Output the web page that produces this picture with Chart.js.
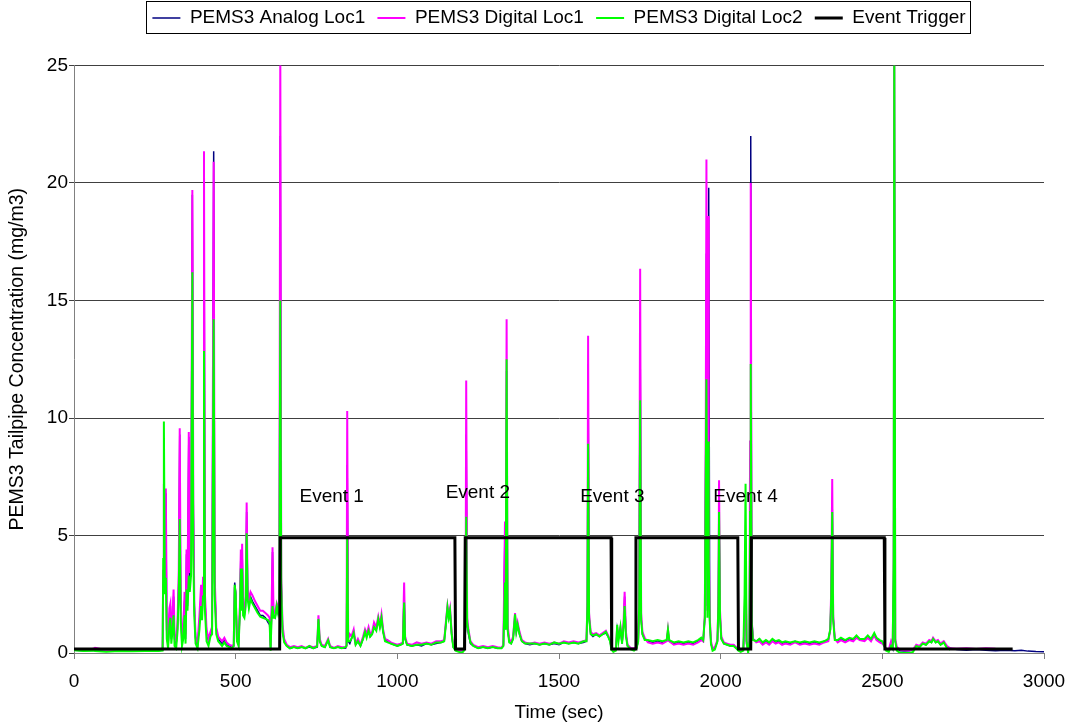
<!DOCTYPE html>
<html>
<head>
<meta charset="utf-8">
<script src="https://cdn.jsdelivr.net/npm/chart.js@4.4.0/dist/chart.umd.min.js"></script>
<style>
  html, body { margin: 0; padding: 0; background: #fff; }
  #wrap { width: 1067px; height: 727px; }
</style>
</head>
<body>
<div id="wrap"><canvas id="pemsChart"></canvas></div>
<script>
// sample times (sec) shared by the three PEMS3 traces
const time = [
  0, 30, 60, 65, 100, 140, 180, 220, 260, 274,
  276, 278, 281, 284, 287, 291, 295, 298, 301, 305, 308, 311, 316, 320, 324, 327, 330, 334, 338, 342, 345, 348, 351, 355, 358, 362, 366, 369, 372, 376,
  382, 388, 393, 396, 399, 402, 405, 410, 416, 422, 427, 432, 435, 440, 446, 452, 458, 465, 472, 480, 488, 494, 497, 500, 504, 509, 513, 516, 518, 520,
  523, 527, 531, 534, 537, 541, 546, 552, 560, 568, 576, 584, 592, 600, 605, 608, 611, 614, 617, 622, 627, 631, 635, 638, 641, 645, 650, 658, 668, 680,
  692, 704, 716, 728, 740, 752, 756, 760, 766, 776, 786, 792, 804, 816, 828, 840, 843, 845, 848, 853, 858, 865, 871, 878, 886, 894, 900, 905, 911, 916,
  922, 928, 935, 941, 946, 951, 956, 962, 970, 980, 990, 1000, 1010, 1017, 1021, 1024, 1030, 1045, 1060, 1075, 1090, 1105, 1120, 1135, 1145, 1150, 1155, 1159, 1163, 1168,
  1173, 1180, 1190, 1200, 1206, 1211, 1213, 1216, 1220, 1226, 1235, 1250, 1265, 1280, 1295, 1310, 1322, 1328, 1333, 1335, 1338, 1341, 1346, 1352, 1358, 1364, 1368, 1372, 1378, 1385,
  1395, 1410, 1425, 1440, 1455, 1470, 1485, 1500, 1515, 1530, 1545, 1560, 1575, 1585, 1588, 1590, 1593, 1598, 1605, 1615, 1625, 1635, 1645, 1652, 1658, 1662, 1668, 1676, 1680, 1684,
  1690, 1695, 1700, 1703, 1707, 1712, 1722, 1732, 1740, 1745, 1748, 1751, 1754, 1758, 1765, 1775, 1790, 1805, 1820, 1833, 1837, 1841, 1855, 1870, 1885, 1900, 1915, 1930, 1940, 1946,
  1951, 1954, 1956, 1959, 1961, 1963, 1966, 1970, 1975, 1982, 1990, 1993, 1995, 1998, 2002, 2010, 2020, 2030, 2040, 2048, 2055, 2062, 2070, 2074, 2077, 2080, 2085, 2089, 2091, 2093,
  2096, 2100, 2110, 2120, 2130, 2140, 2150, 2160, 2170, 2180, 2190, 2200, 2215, 2230, 2245, 2260, 2275, 2290, 2305, 2320, 2333, 2339, 2342, 2345, 2348, 2353, 2362, 2372, 2385, 2398,
  2410, 2420, 2430, 2445, 2455, 2465, 2475, 2482, 2492, 2500, 2506, 2512, 2520, 2527, 2532, 2535, 2537, 2540, 2545, 2555, 2570, 2585, 2595, 2605, 2615, 2625, 2635, 2645, 2652, 2657,
  2665, 2672, 2680, 2690, 2700, 2710, 2730, 2760, 2790, 2820, 2850, 2880, 2910, 2930, 2950, 2975, 3000
];

// PEMS3 Analog Loc1 (mg/m3)
const analogLoc1 = [
  0.12, 0.1, 0.12, 0.1, 0.08, 0.1, 0.09, 0.1, 0.1, 0.12,
  3.0, 7.0, 3.0, 6.8, 0.8, 0.3, 1.6, 2.0, 0.6, 1.4, 2.4, 0.6, 0.4, 1.0, 3.0, 9.3, 2.0, 0.5, 0.8, 2.2, 0.6, 4.2, 2.0, 9.2, 3.0, 4.0, 19.5, 6.0, 2.0, 0.6,
  0.3, 1.3, 2.5, 1.5, 3.0, 21.0, 2.2, 0.9, 0.5, 0.8, 1.0, 21.35, 3.0, 1.0, 0.6, 0.5, 0.4, 0.55, 0.35, 0.3, 0.25, 0.3, 3.0, 2.6, 0.6, 0.35, 1.8, 4.2, 2.0, 4.4,
  1.8, 1.6, 2.2, 6.0, 2.6, 2.0, 2.4, 2.2, 2.0, 1.8, 1.6, 1.6, 1.5, 1.3, 1.2, 0.2, 1.6, 4.3, 1.6, 1.5, 1.9, 1.7, 2.0, 22.0, 3.0, 1.0, 0.5, 0.3, 0.2, 0.25,
  0.2, 0.25, 0.2, 0.25, 0.2, 0.25, 1.4, 0.5, 0.3, 0.25, 0.55, 0.25, 0.2, 0.25, 0.2, 0.2, 0.3, 8.0, 0.5, 0.4, 0.6, 0.9, 0.35, 0.5, 0.3, 0.6, 0.9, 0.7, 1.0, 0.7,
  0.8, 1.1, 1.0, 1.4, 1.1, 1.45, 0.9, 0.55, 0.5, 0.4, 0.35, 0.3, 0.35, 0.4, 2.6, 0.6, 0.35, 0.3, 0.35, 0.3, 0.4, 0.35, 0.4, 0.45, 0.5, 1.2, 1.9, 1.5, 1.8, 0.8,
  0.25, 0.15, 0.1, 0.1, 0.15, 1.0, 9.3, 1.2, 0.8, 0.4, 0.3, 0.2, 0.25, 0.2, 0.25, 0.2, 0.2, 0.3, 5.4, 1.0, 12.0, 1.0, 0.5, 0.4, 0.6, 1.5, 0.9, 1.2, 0.8, 0.5,
  0.4, 0.35, 0.4, 0.35, 0.4, 0.35, 0.4, 0.35, 0.45, 0.4, 0.45, 0.4, 0.45, 0.5, 2.0, 12.0, 1.5, 0.8, 0.7, 0.8, 0.7, 0.8, 0.85, 0.7, 0.5, 0.2, 0.1, 0.15, 1.0, 0.6,
  1.0, 0.4, 1.2, 2.4, 0.8, 0.3, 0.2, 0.15, 0.2, 0.5, 2.0, 13.7, 1.5, 0.8, 0.6, 0.5, 0.45, 0.5, 0.45, 0.5, 0.95, 0.5, 0.4, 0.45, 0.4, 0.45, 0.4, 0.5, 0.6, 0.5,
  1.5, 9.0, 17.0, 2.0, 18.0, 19.8, 1.5, 0.4, 0.15, 0.2, 0.5, 2.0, 6.0, 1.6, 0.6, 0.4, 0.35, 0.3, 0.35, 0.2, 0.15, 0.1, 0.15, 1.5, 5.0, 0.5, 0.2, 0.5, 8.0, 22.0,
  1.5, 0.6, 0.5, 0.6, 0.4, 0.5, 0.4, 0.55, 0.45, 0.5, 0.4, 0.45, 0.4, 0.5, 0.4, 0.45, 0.4, 0.45, 0.4, 0.5, 0.55, 1.0, 2.5, 6.5, 1.5, 0.6, 0.5, 0.6, 0.5, 0.6,
  0.55, 0.7, 0.6, 0.55, 0.7, 0.55, 0.8, 0.6, 0.5, 0.45, 0.3, 0.15, 0.1, 0.4, 0.2, 3.0, 25.0, 0.5, 0.2, 0.1, 0.08, 0.1, 0.15, 0.3, 0.25, 0.4, 0.35, 0.5, 0.45, 0.6,
  0.45, 0.5, 0.35, 0.45, 0.25, 0.2, 0.15, 0.12, 0.15, 0.12, 0.1, 0.12, 0.1, 0.12, 0.08, 0.06, 0.05
];

// PEMS3 Digital Loc1 (mg/m3)
const digitalLoc1 = [
  0.15, 0.12, 0.18, 0.22, 0.12, 0.15, 0.13, 0.14, 0.15, 0.15,
  3.5, 7.2, 3.2, 7.0, 1.0, 0.4, 1.9, 2.1, 0.8, 1.7, 2.7, 0.8, 0.5, 1.2, 3.5, 9.56, 2.2, 0.6, 1.0, 2.6, 0.8, 4.4, 2.4, 9.4, 3.4, 4.3, 19.7, 6.5, 2.2, 0.7,
  0.4, 1.6, 2.9, 1.8, 3.2, 21.35, 2.5, 1.0, 0.6, 0.9, 1.1, 20.9, 3.3, 1.1, 0.7, 0.6, 0.5, 0.65, 0.45, 0.35, 0.3, 0.35, 2.8, 2.5, 0.6, 0.4, 2.0, 4.4, 2.2, 4.65,
  2.0, 1.8, 2.4, 6.4, 2.8, 2.2, 2.6, 2.45, 2.2, 2.0, 1.8, 1.8, 1.7, 1.6, 1.5, 0.3, 1.8, 4.5, 1.8, 1.7, 2.1, 1.9, 2.2, 26.0, 3.2, 1.2, 0.6, 0.35, 0.25, 0.3,
  0.25, 0.3, 0.22, 0.3, 0.25, 0.3, 1.6, 0.6, 0.35, 0.3, 0.6, 0.3, 0.22, 0.3, 0.25, 0.25, 0.35, 10.3, 0.6, 0.8, 0.7, 1.0, 0.4, 0.6, 0.35, 0.7, 1.0, 0.8, 1.1, 0.8,
  0.9, 1.3, 1.1, 1.55, 1.2, 1.65, 1.0, 0.6, 0.55, 0.45, 0.4, 0.35, 0.4, 0.45, 3.0, 0.7, 0.4, 0.35, 0.45, 0.4, 0.45, 0.4, 0.5, 0.5, 0.55, 1.3, 2.0, 1.6, 1.9, 0.9,
  0.3, 0.15, 0.12, 0.12, 0.2, 1.5, 11.6, 1.5, 1.0, 0.5, 0.35, 0.25, 0.3, 0.25, 0.3, 0.25, 0.22, 0.35, 5.6, 1.2, 14.2, 1.2, 0.6, 0.45, 0.7, 1.7, 1.0, 1.3, 0.9, 0.55,
  0.45, 0.4, 0.45, 0.4, 0.45, 0.4, 0.45, 0.4, 0.5, 0.45, 0.5, 0.45, 0.5, 0.55, 2.2, 13.5, 1.7, 0.9, 0.8, 0.85, 0.75, 0.85, 0.95, 0.75, 0.55, 0.25, 0.12, 0.2, 1.1, 0.7,
  1.1, 0.5, 1.4, 2.6, 0.9, 0.35, 0.2, 0.2, 0.25, 0.6, 2.2, 16.35, 1.7, 0.9, 0.65, 0.45, 0.4, 0.45, 0.4, 0.5, 1.0, 0.5, 0.35, 0.4, 0.35, 0.4, 0.35, 0.45, 0.55, 0.5,
  1.6, 10.0, 21.0, 1.8, 18.6, 5.0, 1.6, 0.5, 0.2, 0.25, 0.55, 2.2, 7.35, 1.8, 0.7, 0.45, 0.4, 0.35, 0.35, 0.25, 0.15, 0.1, 0.15, 1.2, 4.0, 0.4, 0.15, 0.6, 9.0, 20.0,
  1.4, 0.6, 0.45, 0.5, 0.35, 0.45, 0.35, 0.5, 0.4, 0.45, 0.35, 0.4, 0.35, 0.45, 0.35, 0.4, 0.35, 0.4, 0.35, 0.45, 0.5, 1.0, 2.8, 7.4, 1.6, 0.6, 0.45, 0.55, 0.45, 0.55,
  0.5, 0.65, 0.55, 0.5, 0.65, 0.5, 0.75, 0.55, 0.45, 0.4, 0.3, 0.2, 0.15, 0.5, 0.3, 3.5, 25.0, 0.6, 0.25, 0.15, 0.12, 0.12, 0.15, 0.35, 0.3, 0.45, 0.4, 0.55, 0.5, 0.65,
  0.5, 0.55, 0.4, 0.5, 0.3, 0.2, 0.18, 0.2, 0.17, 0.2, 0.18, null, null, null, null, null, null
];

// PEMS3 Digital Loc2 (mg/m3)
const digitalLoc2 = [
  0.12, 0.08, 0.1, 0.08, 0.05, 0.08, 0.07, 0.08, 0.09, 0.1,
  4.0, 9.85, 2.5, 3.2, 0.6, 0.2, 1.2, 1.5, 0.4, 1.0, 1.6, 0.3, 0.2, 0.9, 2.6, 5.7, 1.4, 0.3, 0.6, 1.6, 0.4, 2.7, 1.8, 3.3, 2.6, 3.3, 16.2, 4.2, 1.6, 0.4,
  0.2, 1.0, 2.0, 1.4, 2.4, 12.85, 1.8, 0.5, 0.3, 0.7, 0.8, 14.2, 2.5, 0.8, 0.5, 0.4, 0.3, 0.45, 0.3, 0.25, 0.2, 0.3, 2.9, 2.5, 0.5, 0.3, 1.7, 3.6, 1.8, 3.6,
  1.6, 1.5, 2.0, 5.1, 2.3, 1.9, 2.3, 2.1, 1.9, 1.7, 1.55, 1.5, 1.45, 1.4, 1.3, 0.1, 1.5, 2.0, 1.5, 1.5, 2.0, 1.7, 2.1, 15.0, 2.8, 0.9, 0.45, 0.3, 0.2, 0.25,
  0.2, 0.25, 0.2, 0.3, 0.2, 0.28, 1.45, 0.5, 0.3, 0.25, 0.55, 0.25, 0.2, 0.25, 0.2, 0.25, 0.3, 4.95, 0.5, 0.5, 0.6, 0.85, 0.35, 0.5, 0.3, 0.6, 0.9, 0.65, 0.95, 0.7,
  0.8, 1.1, 0.95, 1.45, 1.1, 1.5, 0.9, 0.5, 0.45, 0.4, 0.35, 0.3, 0.35, 0.4, 2.15, 0.6, 0.35, 0.3, 0.35, 0.35, 0.4, 0.35, 0.45, 0.45, 0.5, 1.2, 1.95, 1.5, 1.8, 0.8,
  0.25, 0.1, 0.05, 0.0, 0.1, 1.2, 5.8, 1.3, 0.9, 0.45, 0.3, 0.2, 0.25, 0.2, 0.25, 0.2, 0.2, 0.3, 3.0, 1.0, 12.5, 1.0, 0.45, 0.4, 0.6, 1.65, 0.9, 1.2, 0.8, 0.5,
  0.4, 0.4, 0.4, 0.35, 0.4, 0.35, 0.45, 0.4, 0.45, 0.4, 0.45, 0.4, 0.5, 0.5, 2.0, 8.9, 1.5, 0.8, 0.75, 0.8, 0.7, 0.8, 0.9, 0.7, 0.5, 0.15, 0.05, 0.1, 1.2, 0.5,
  1.1, 0.4, 1.2, 2.0, 0.7, 0.3, 0.15, 0.1, 0.2, 0.5, 2.0, 10.75, 1.4, 0.8, 0.55, 0.55, 0.5, 0.55, 0.5, 0.55, 1.0, 0.55, 0.45, 0.5, 0.45, 0.5, 0.45, 0.55, 0.65, 0.55,
  1.5, 8.0, 11.65, 1.5, 9.0, 4.0, 1.4, 0.4, 0.1, 0.15, 0.5, 2.0, 6.0, 1.5, 0.6, 0.4, 0.35, 0.3, 0.3, 0.2, 0.1, 0.05, 0.1, 2.5, 7.2, 0.5, 0.0, 0.5, 6.0, 12.3,
  1.3, 0.55, 0.5, 0.6, 0.45, 0.55, 0.45, 0.6, 0.5, 0.55, 0.45, 0.5, 0.45, 0.5, 0.45, 0.5, 0.45, 0.5, 0.45, 0.5, 0.6, 1.0, 2.4, 6.0, 1.4, 0.55, 0.55, 0.65, 0.55, 0.65,
  0.6, 0.75, 0.6, 0.6, 0.75, 0.6, 0.85, 0.65, 0.55, 0.5, 0.3, 0.1, 0.05, 0.3, 0.2, 4.0, 26.0, 0.5, 0.1, 0.0, 0.0, 0.0, 0.05, 0.3, 0.25, 0.4, 0.35, 0.5, 0.45, 0.6,
  0.45, 0.5, 0.35, 0.45, 0.2, 0.15, null, null, null, null, null, null, null, null, null, null, null
];

// Event Trigger step (sec, level)
const triggerTime  = [0, 636, 638, 1178, 1180, 1208, 1210, 1661, 1663, 1736, 1738, 2053, 2055, 2093, 2095, 2506, 2508, 2903];
const triggerLevel = [0.17, 0.17, 4.9, 4.9, 0.17, 0.17, 4.9, 4.9, 0.17, 0.17, 4.9, 4.9, 0.17, 0.17, 4.9, 4.9, 0.17, 0.17];

// event annotations
const eventNames = ['Event 1', 'Event 2', 'Event 3', 'Event 4'];
const eventTime  = [797, 1249, 1665, 2077];
const eventLevel = [6.65, 6.8, 6.63, 6.63];

const xTicks = [0, 500, 1000, 1500, 2000, 2500, 3000];
const yTicks = [0, 5, 10, 15, 20, 25];

const FONT = '"Liberation Sans", Arial, sans-serif';

function toPoints(xs, ys) {
  return xs.map((x, i) => ({ x: x, y: ys[i] }));
}

// frame around the legend items
const legendFrame = {
  id: 'legendFrame',
  afterDraw(chart) {
    const boxes = chart.legend && chart.legend.legendHitBoxes;
    if (!boxes || !boxes.length) return;
    const left = Math.min(...boxes.map(b => b.left));
    const right = Math.max(...boxes.map(b => b.left + b.width));
    const ctx = chart.ctx;
    ctx.save();
    ctx.strokeStyle = '#000';
    ctx.lineWidth = 1;
    ctx.strokeRect(Math.round(left - 6) + 0.5, 1.5, Math.round(right - left + 11), 32);
    ctx.restore();
  }
};

// "Event N" text placed in data coordinates
const eventLabels = {
  id: 'eventLabels',
  afterDatasetsDraw(chart) {
    const { ctx, scales } = chart;
    ctx.save();
    ctx.font = '19px ' + FONT;
    ctx.fillStyle = '#000';
    ctx.textAlign = 'center';
    ctx.textBaseline = 'middle';
    eventNames.forEach((name, i) => {
      ctx.fillText(name, scales.x.getPixelForValue(eventTime[i]), scales.y.getPixelForValue(eventLevel[i]));
    });
    ctx.restore();
  }
};

const ctx = document.getElementById('pemsChart').getContext('2d');
const pemsChart = new Chart(ctx, {
  type: 'line',
  data: {
    datasets: [{
      label: 'PEMS3 Analog Loc1',
      data: toPoints(time, analogLoc1),
      borderColor: '#000080',
      borderWidth: 1.5,
      order: 4
    }, {
      label: 'PEMS3 Digital Loc1',
      data: toPoints(time, digitalLoc1),
      borderColor: '#ff00ff',
      borderWidth: 2,
      order: 3
    }, {
      label: 'PEMS3 Digital Loc2',
      data: toPoints(time, digitalLoc2),
      borderColor: '#00ff00',
      borderWidth: 2,
      order: 2
    }, {
      label: 'Event Trigger',
      data: toPoints(triggerTime, triggerLevel),
      borderColor: '#000000',
      borderWidth: 3,
      order: 1
    }]
  },
  options: {
    responsive: true,
    maintainAspectRatio: false,
    animation: false,
    spanGaps: false,
    elements: {
      point: { radius: 0, hoverRadius: 0 },
      line: { tension: 0, fill: false }
    },
    layout: { padding: { left: 0, right: 23, top: -3.7, bottom: 0 } },
    plugins: {
      tooltip: { enabled: false },
      legend: {
        position: 'top',
        fullSize: false,
        labels: {
          color: '#000',
          font: { family: FONT, size: 19 },
          usePointStyle: true,
          pointStyle: 'line',
          pointStyleWidth: 28,
          padding: 12.2,
          sort: (a, b) => a.datasetIndex - b.datasetIndex
        }
      },
      // empty title used only as a spacer between legend and plot
      title: {
        display: true,
        text: '',
        weight: 100,
        font: { family: FONT, size: 10 },
        padding: { top: 0, bottom: 16 }
      }
    },
    scales: {
      x: {
        type: 'linear',
        min: 0,
        max: 3000,
        afterFit(scale) {
          scale.height = 74;
          scale.paddingLeft = 0;
          scale.paddingRight = 0;
        },
        afterBuildTicks(scale) { scale.ticks = xTicks.map(v => ({ value: v })); },
        ticks: {
          color: '#000',
          font: { family: FONT, size: 19 },
          padding: 11.5,
          maxRotation: 0,
          callback: v => String(v)
        },
        grid: {
          drawOnChartArea: false,
          drawTicks: true,
          tickLength: 6,
          color: '#808080'
        },
        border: { color: '#808080', width: 1 },
        title: {
          display: true,
          text: 'Time (sec)',
          color: '#000',
          font: { family: FONT, size: 19 },
          padding: { top: 0, bottom: 3 }
        }
      },
      y: {
        min: 0,
        max: 25,
        afterFit(scale) { scale.width = 74; },
        afterBuildTicks(scale) { scale.ticks = yTicks.map(v => ({ value: v })); },
        ticks: {
          color: '#000',
          font: { family: FONT, size: 19 },
          padding: 1,
          callback: v => String(v)
        },
        grid: {
          color: '#404040',
          lineWidth: 1,
          tickLength: 5
        },
        border: { color: '#808080', width: 1 },
        title: {
          display: true,
          text: 'PEMS3 Tailpipe Concentration (mg/m3)',
          color: '#000',
          font: { family: FONT, size: 19.5 },
          padding: { top: 5.7, bottom: 0 }
        }
      }
    }
  },
  plugins: [legendFrame, eventLabels]
});
</script>
</body>
</html>
